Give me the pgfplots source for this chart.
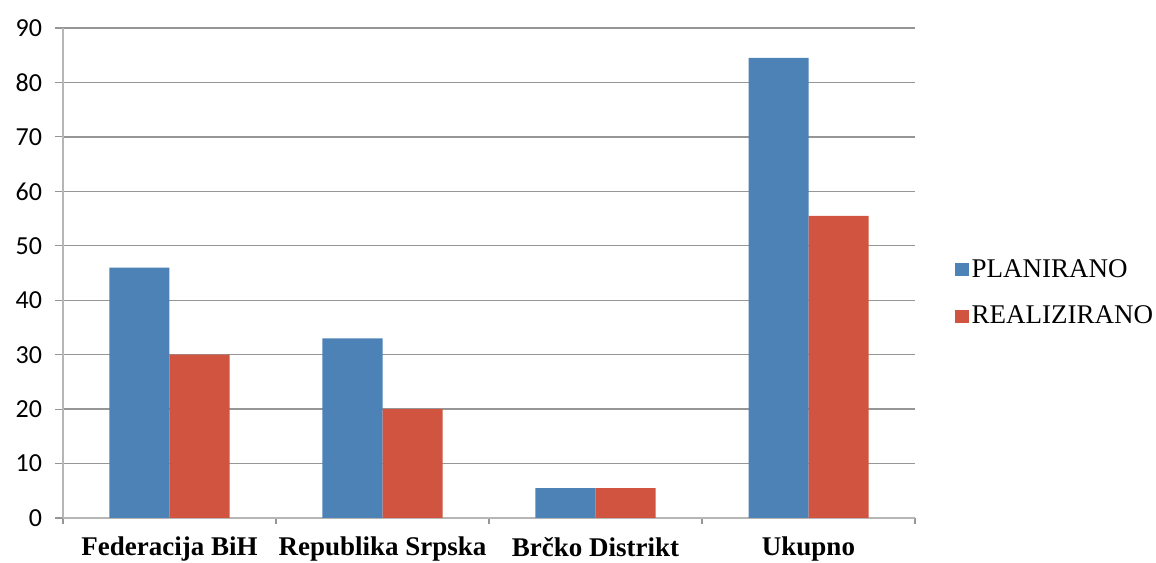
\documentclass[border=0pt]{standalone}
\usepackage{fontspec}
\setmainfont{Liberation Serif}
\newfontfamily\calibri{Carlito}
\usepackage{pgfplots}
\pgfplotsset{compat=1.18}

\definecolor{planblue}{RGB}{76,130,182}
\definecolor{realred}{RGB}{208,84,64}
\definecolor{gridgray}{RGB}{150,150,150}

\begin{document}
\begin{tikzpicture}
  \begin{axis}[
      ybar=0pt,
      bar width=30pt,
      scale only axis,
      width=426pt, height=245pt,
      xmin=-0.5, xmax=3.5,
      ymin=0, ymax=90,
      ytick={0,10,...,90},
      xtick=data,
      xticklabels={Federacija BiH, Republika Srpska, Brčko Distrikt, Ukupno},
      minor xtick={-0.5,0.5,1.5,2.5,3.5},
      major x tick style={draw=none},
      minor tick length=3pt,
      major tick length=4pt,
      tick align=outside,
      tick style={gridgray, line width=0.6pt},
      axis x line*=bottom,
      axis y line*=left,
      axis line style={-, gridgray!70, line width=0.6pt},
      ymajorgrids,
      major grid style={gridgray, line width=0.7pt},
      /pgf/number format/assume math mode=true,
      yticklabel style={font=\calibri\fontsize{13}{13}\selectfont, xshift=-3pt},
      xticklabel style={font=\bfseries\fontsize{13.5}{14}\selectfont, yshift=-2pt},
      legend style={at={(1.047,0.459)}, anchor=west, draw=none, fill=none,
        inner sep=0pt, row sep=9pt,
        font=\fontsize{13.5}{13.5}\selectfont,
        nodes={inner xsep=1.5pt}},
      legend cell align=left,
      legend image code/.code={\fill[#1, draw=none] (0pt,-3.3pt) rectangle (6.6pt,3.3pt);},
    ]
    \addplot[fill=planblue, draw=none] coordinates {(0,46) (1,33) (2,5.5) (3,84.5)};
    \addplot[fill=realred, draw=none] coordinates {(0,30) (1,20) (2,5.5) (3,55.5)};
    \legend{PLANIRANO, REALIZIRANO}
  \end{axis}
  \pgfresetboundingbox
  \path[use as bounding box] (-31.5pt,-22pt) rectangle (546.5pt,259pt);
\end{tikzpicture}
\end{document}
